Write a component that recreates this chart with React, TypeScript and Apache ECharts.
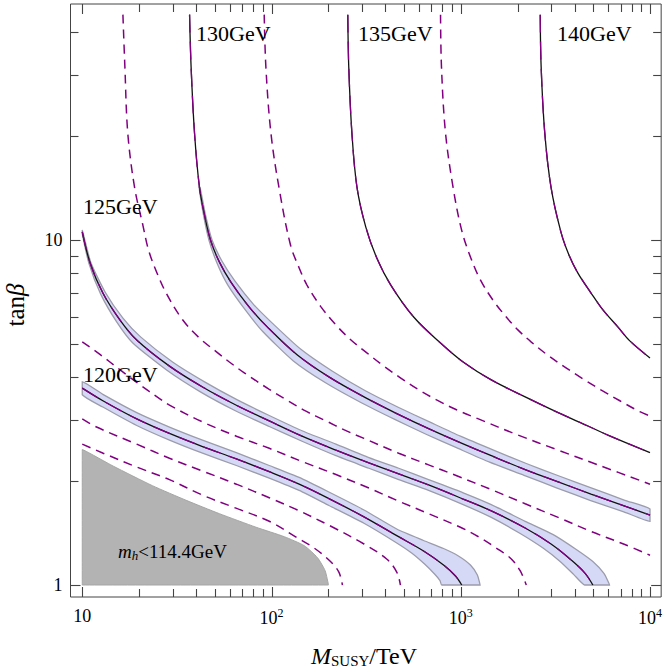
import React, { useEffect, useRef } from "react";
import * as echarts from "echarts";

const FONT = "'Liberation Serif', 'Times New Roman', serif";
const PURPLE = "#800080";

// axis extents (M_SUSY in TeV, tan beta)
const X_MIN = 8.667;
const X_MAX = 11454;
const Y_MIN = 0.9231;
const Y_MAX = 48.31;

// ticks
const xMajorTicks = [10, 100, 1000, 10000];
const xMinorTicks = [20, 30, 40, 50, 60, 70, 80, 90, 200, 300, 400, 500, 600, 700, 800, 900, 2000, 3000, 4000, 5000, 6000, 7000, 8000, 9000];
const yMajorTicks = [1, 10];
const yMinorTicks = [2, 3, 4, 5, 6, 7, 8, 9, 20, 30, 40];

// excluded region m_h < 114.4 GeV
const gray114 = [[10, 1], [10, 2.47], [14.6, 2.21], [23.5, 1.94], [35.4, 1.76], [53, 1.61], [83, 1.47], [117, 1.38], [149, 1.3], [175, 1.2], [192, 1.1], [200, 1]];

// dashed contours (115, 117.5, 122.5, 127.5, 132.5, 137.5 GeV)
const d115 = [[10, 2.56], [12.9, 2.41], [19.3, 2.2], [28.9, 2.02], [43.4, 1.82], [64.9, 1.67], [97.3, 1.53], [137, 1.37], [168, 1.28], [205, 1.17], [227, 1.09], [237, 1]];
const d117 = [[10, 3.03], [11.9, 2.87], [19.4, 2.56], [28.9, 2.33], [43.2, 2.14], [65.2, 1.96], [97.3, 1.79], [137, 1.65], [206, 1.48], [308, 1.315], [406, 1.19], [459, 1.09], [480, 1]];
const d122 = [[10, 5.07], [12.4, 4.66], [15.8, 4.21], [20.1, 3.81], [25.6, 3.47], [28.9, 3.32], [43.2, 2.97], [65.2, 2.7], [97.3, 2.49], [145, 2.28], [219, 2.09], [327, 1.91], [470, 1.75], [676, 1.61], [996, 1.47], [1240, 1.38], [1540, 1.28], [1850, 1.19], [2060, 1.1], [2220, 1]];
const d127 = [[16.4, 45], [16.8, 31.7], [17.4, 20.4], [18.9, 14.2], [20.9, 11.05], [22.4, 9.35], [24.7, 8.08], [27.9, 6.98], [33.9, 5.87], [41.6, 5.2], [51.2, 4.74], [59.9, 4.43], [71.8, 4.12], [97.3, 3.69], [121, 3.43], [152, 3.19], [194, 2.99], [241, 2.82], [308, 2.66], [470, 2.41], [676, 2.23], [938, 2.08], [1450, 1.89], [2190, 1.72], [3270, 1.57], [4880, 1.43], [7360, 1.31], [10000, 1.22]];
const d132 = [[91.5, 45], [93.4, 31.7], [99.3, 20.4], [110, 14], [126, 9.67], [140, 8.3], [154, 7.4], [183, 6.39], [219, 5.67], [263, 5.13], [319, 4.71], [392, 4.31], [482, 3.98], [599, 3.68], [745, 3.44], [949, 3.22], [1240, 3.03], [2010, 2.72], [3270, 2.46], [5300, 2.23], [10000, 1.96]];
const d137 = [[782, 45], [791, 31.7], [831, 20.4], [915, 14], [1010, 10.7], [1125, 8.93], [1270, 7.66], [1490, 6.66], [1740, 5.98], [2010, 5.48], [2360, 5.06], [2890, 4.63], [3600, 4.26], [4420, 3.96], [5500, 3.68], [6930, 3.42], [8830, 3.18], [10000, 3.09]];

// solid contours (120 ... 140 GeV)
const s120 = [[10, 3.72], [12.85, 3.42], [19.4, 3.03], [28.9, 2.75], [43.2, 2.52], [65.2, 2.32], [97.3, 2.13], [140, 1.96], [201, 1.78], [308, 1.576], [459, 1.39], [636, 1.255], [811, 1.143], [938, 1.062], [1012, 1]];
const s125 = [[10, 10.55], [11, 8.58], [12.85, 7.02], [15.8, 5.87], [19.4, 5.13], [28.9, 4.31], [43.2, 3.75], [65.2, 3.32], [97.3, 2.99], [145, 2.7], [219, 2.46], [327, 2.26], [470, 2.1], [676, 1.95], [1030, 1.775], [1450, 1.64], [2190, 1.463], [3000, 1.315], [3830, 1.182], [4530, 1.083], [4990, 1]];
const s130 = [[36.9, 45], [37.6, 31.7], [39.2, 20.4], [41.6, 14.24], [44.25, 11.82], [47.6, 10], [53, 8.64], [61.4, 7.51], [76.3, 6.39], [94.9, 5.6], [137, 4.64], [201, 4.01], [308, 3.51], [459, 3.14], [676, 2.84], [973, 2.6], [1450, 2.37], [2190, 2.16], [3270, 1.99], [4880, 1.835], [7360, 1.694], [10000, 1.595]];
const s135 = [[253, 45], [256, 31.7], [266, 20.4], [283, 14.2], [315, 10.9], [360, 8.87], [427, 7.4], [564, 5.98], [782, 5.03], [1030, 4.43], [1450, 3.93], [2190, 3.51], [3270, 3.16], [4700, 2.89], [5990, 2.72], [10000, 2.42]];
const s140 = [[2630, 45], [2660, 31.7], [2780, 20.4], [3000, 14.2], [3390, 10.5], [3730, 9.05], [4160, 8.02], [4880, 7.02], [5640, 6.27], [6760, 5.6], [7820, 5.1], [10000, 4.55]];

// uncertainty bands (upper-right edge, lower-left edge)
const s120Up = [[10, 3.88], [12.85, 3.57], [19.4, 3.16], [28.9, 2.87], [43.2, 2.63], [65.2, 2.42], [97.3, 2.22], [140, 2.05], [201, 1.86], [308, 1.65], [459, 1.453], [636, 1.346], [811, 1.276], [972, 1.214], [1125, 1.143], [1224, 1.069], [1265, 1]];
const s120Lo = [[10, 3.56], [12.85, 3.28], [19.4, 2.9], [28.9, 2.63], [43.2, 2.41], [65.2, 2.22], [97.3, 2.04], [140, 1.88], [201, 1.7], [308, 1.51], [459, 1.324], [550, 1.238], [644, 1.15], [727, 1.076], [777, 1.03], [794, 1]];
const s125Up = [[10, 10.69], [11.1, 8.61], [13.2, 7.07], [16.4, 5.94], [20.4, 5.23], [30, 4.43], [44.3, 3.88], [66, 3.44], [97.3, 3.1], [145, 2.8], [219, 2.56], [327, 2.34], [470, 2.18], [676, 2.02], [1030, 1.85], [1450, 1.71], [2190, 1.53], [3080, 1.4], [4060, 1.27], [4990, 1.17], [5710, 1.08], [6110, 1]];
const s125Lo = [[10, 10.41], [10.85, 8.55], [12.5, 6.98], [15.2, 5.79], [18.5, 5.03], [27.9, 4.2], [42.1, 3.63], [64.4, 3.2], [97.3, 2.88], [145, 2.61], [219, 2.37], [327, 2.18], [470, 2.02], [676, 1.88], [1030, 1.71], [1450, 1.57], [2040, 1.415], [2720, 1.28], [3350, 1.17], [3970, 1.07], [4520, 1]];
const s130Up = [[41.9, 14.24], [44.8, 11.82], [48.5, 10], [54.7, 8.69], [64, 7.61], [80.1, 6.52], [100, 5.77], [143, 4.82], [209, 4.17], [315, 3.65], [470, 3.27], [693, 2.96], [996, 2.7], [1490, 2.46], [2220, 2.25], [3310, 2.07], [4930, 1.91], [7360, 1.76], [10000, 1.66]];
const s130Lo = [[41.4, 14.24], [43.7, 11.82], [46.7, 10], [51.5, 8.58], [58.8, 7.4], [72.7, 6.27], [89.9, 5.43], [130, 4.47], [194, 3.85], [300, 3.37], [448, 3.02], [660, 2.73], [949, 2.5], [1420, 2.27], [2160, 2.08], [3230, 1.91], [4820, 1.76], [7270, 1.63], [10000, 1.53]];

const polySeries = (upper: number[][], lower: number[][], style: any, z: number) => ({
  type: "custom",
  coordinateSystem: "cartesian2d",
  silent: true,
  clip: false,
  z,
  data: [[100, 2]],
  encode: { x: 0, y: 1 },
  renderItem: (_params: any, api: any) => {
    const pts = upper.concat(lower.slice().reverse()).map((p) => api.coord(p));
    return {
      type: "polygon",
      shape: { points: pts, smooth: 0.2, smoothConstraint: [pts[0], pts[0]] },
      style,
    };
  },
});

const dashedSeries = (data: number[][]) => ({
  type: "line",
  data,
  smooth: 0.35,
  symbol: "none",
  showSymbol: false,
  silent: true,
  z: 3,
  lineStyle: { color: PURPLE, width: 1.5, type: [9, 6] },
});

const solidSeries = (data: number[][]) => [
  {
    type: "line",
    data,
    smooth: 0.35,
    symbol: "none",
    showSymbol: false,
    silent: true,
    z: 4,
    lineStyle: { color: "#111111", width: 1.3 },
  },
  {
    type: "line",
    data,
    smooth: 0.35,
    symbol: "none",
    showSymbol: false,
    silent: true,
    z: 5,
    lineStyle: { color: PURPLE, width: 1.3, type: [18, 9] },
  },
];

const isPow10 = (v: number) => Math.abs(Math.log10(v) - Math.round(Math.log10(v))) < 1e-6;

const labelGraphics: any[] = [
  { type: "text", x: 83, y: 374, z: 100, style: { text: "120GeV", fontSize: 22, fontFamily: FONT, fill: "#000", verticalAlign: "middle" } },
  { type: "text", x: 83, y: 206, z: 100, style: { text: "125GeV", fontSize: 22, fontFamily: FONT, fill: "#000", verticalAlign: "middle" } },
  { type: "text", x: 196, y: 33, z: 100, style: { text: "130GeV", fontSize: 22, fontFamily: FONT, fill: "#000", verticalAlign: "middle" } },
  { type: "text", x: 358, y: 33, z: 100, style: { text: "135GeV", fontSize: 22, fontFamily: FONT, fill: "#000", verticalAlign: "middle" } },
  { type: "text", x: 557, y: 33, z: 100, style: { text: "140GeV", fontSize: 22, fontFamily: FONT, fill: "#000", verticalAlign: "middle" } },
  {
    type: "text",
    x: 118,
    y: 551,
    z: 100,
    style: {
      text: "{i|m}{sub|h}{n|<114.4GeV}",
      verticalAlign: "middle",
      rich: {
        i: { fontSize: 19, fontFamily: FONT, fontStyle: "italic", fill: "#000" },
        sub: { fontSize: 13, fontFamily: FONT, fontStyle: "italic", fill: "#000", padding: [8, 0, 0, 0] },
        n: { fontSize: 19, fontFamily: FONT, fill: "#000" },
      },
    },
  },
  {
    type: "text",
    x: 364,
    y: 656,
    z: 100,
    style: {
      text: "{i|M}{sub|SUSY}{n|/TeV}",
      align: "center",
      verticalAlign: "middle",
      rich: {
        i: { fontSize: 24, fontFamily: FONT, fontStyle: "italic", fill: "#000" },
        sub: { fontSize: 15, fontFamily: FONT, fill: "#000", padding: [9, 0, 0, 0] },
        n: { fontSize: 24, fontFamily: FONT, fill: "#000" },
      },
    },
  },
  {
    type: "text",
    x: 15,
    y: 305,
    z: 100,
    rotation: Math.PI / 2,
    style: {
      text: "{n|tan}{i|β}",
      align: "center",
      verticalAlign: "middle",
      rich: {
        n: { fontSize: 25, fontFamily: FONT, fill: "#000" },
        i: { fontSize: 25, fontFamily: FONT, fontStyle: "italic", fill: "#000" },
      },
    },
  },
];

export default function App() {
  const ref = useRef<HTMLDivElement>(null);
  useEffect(() => {
    if (!ref.current) return;
    const chart = echarts.init(ref.current, null, { renderer: "svg" });
    const bandStyle = { fill: "#d5d9f6", stroke: "#9b9cab", lineWidth: 1.3 };
    const option: any = {
      animation: false,
      backgroundColor: "#ffffff",
      grid: {
        left: 70.5,
        right: 1.5,
        top: 4,
        bottom: 73,
        show: true,
        borderColor: "#444",
        borderWidth: 1,
      },
      xAxis: {
        type: "log",
        logBase: 10,
        min: X_MIN,
        max: X_MAX,
        axisLine: { show: false },
        splitLine: { show: false },
        axisTick: { show: false },
        axisLabel: {
          margin: 10,
          color: "#000",
          formatter: (v: number) => {
            if (!isPow10(v)) return "";
            const e = Math.round(Math.log10(v));
            return e === 1 ? "{b|10}" : "{b|10}{s|" + e + "}";
          },
          rich: {
            b: { fontSize: 18, fontFamily: FONT, color: "#000" },
            s: { fontSize: 12, fontFamily: FONT, color: "#000", padding: [0, 0, 9, 0] },
          },
        },
      },
      yAxis: {
        type: "log",
        logBase: 10,
        min: Y_MIN,
        max: Y_MAX,
        axisLine: { show: false },
        splitLine: { show: false },
        axisTick: { show: false },
        axisLabel: {
          margin: 8,
          color: "#000",
          fontSize: 18,
          fontFamily: FONT,
          formatter: (v: number) => (isPow10(v) ? String(Math.round(v)) : ""),
        },
      },
      series: [
        polySeries(gray114, [], { fill: "#b3b3b3", stroke: "#a5a5a5", lineWidth: 1 }, 1),
        polySeries(s120Up, s120Lo, bandStyle, 2),
        polySeries(s125Up, s125Lo, bandStyle, 2),
        polySeries(s130Up, s130Lo, bandStyle, 2),
        dashedSeries(d115),
        dashedSeries(d117),
        dashedSeries(d122),
        dashedSeries(d127),
        dashedSeries(d132),
        dashedSeries(d137),
        ...solidSeries(s120),
        ...solidSeries(s125),
        ...solidSeries(s130),
        ...solidSeries(s135),
        ...solidSeries(s140),
      ],
      graphic: labelGraphics,
    };
    chart.setOption(option);

    // frame ticks placed through the chart's own axis scales
    try {
      const px = (v: number) => (chart.convertToPixel({ gridIndex: 0 }, [v, 2]) as number[])[0];
      const py = (v: number) => (chart.convertToPixel({ gridIndex: 0 }, [100, v]) as number[])[1];
      const left = px(X_MIN);
      const right = px(X_MAX);
      const top = py(Y_MAX);
      const bottom = py(Y_MIN);
      const ticks: any[] = [];
      const seg = (x1: number, y1: number, x2: number, y2: number) =>
        ticks.push({
          type: "line",
          z: 200,
          silent: true,
          shape: { x1, y1, x2, y2 },
          style: { stroke: "#444444", lineWidth: 1.1 },
        });
      const addX = (vals: number[], len: number) =>
        vals.forEach((v) => {
          const x = Math.round(px(v)) + 0.5;
          seg(x, bottom, x, bottom - len);
          seg(x, top, x, top + len);
        });
      const addY = (vals: number[], len: number) =>
        vals.forEach((v) => {
          const y = Math.round(py(v)) + 0.5;
          seg(left, y, left + len, y);
          seg(right, y, right - len, y);
        });
      addX(xMajorTicks, 10);
      addX(xMinorTicks, 8);
      addY(yMajorTicks, 10);
      addY(yMinorTicks, 8);
      if (ticks.every((t) => isFinite(t.shape.x1) && isFinite(t.shape.y1))) {
        chart.setOption({ graphic: labelGraphics.concat(ticks) });
      }
    } catch (e) {
      // keep the chart as drawn
    }
    return () => chart.dispose();
  }, []);
  return (
    <div
      ref={ref}
      style={{ position: "fixed", left: 0, top: 0, width: 665, height: 670, background: "#fff" }}
    />
  );
}
